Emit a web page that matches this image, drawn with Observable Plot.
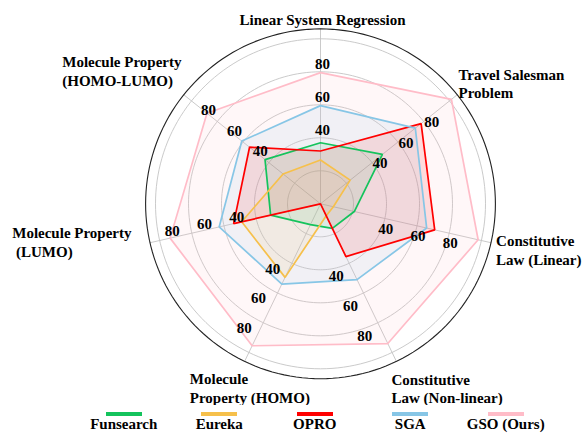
<!DOCTYPE html>
<html><head><meta charset="utf-8">
<script src="https://cdn.jsdelivr.net/npm/d3@7"></script>
<script src="https://cdn.jsdelivr.net/npm/@observablehq/plot@0.6"></script>
<style>
html,body{margin:0;padding:0;background:#fff;overflow:hidden;width:582px;height:433px;}
#chart svg{display:block;}
.legend{position:relative;height:28px;display:flex;padding-left:76px;font-family:"Liberation Serif","Times New Roman",serif;font-weight:bold;font-size:15px;color:#000;}
.legend .item{width:95.5px;text-align:center;}
.legend .sw{width:36px;height:4px;margin:7px auto 0 auto;}
.legend .lab{line-height:16px;white-space:nowrap;}
#chart text{font-family:"Liberation Serif","Times New Roman",serif;}
</style></head><body><div id="chart"></div><div class="legend" id="legend"></div>
<script>
// ---- data ----
const axes = ["Linear System Regression", "Travel Salesman\nProblem", "Constitutive\nLaw (Linear)", "Constitutive\nLaw (Non-linear)", "Molecule\nProperty (HOMO)", "Molecule Property\n\u00a0(LUMO)", "Molecule Property\n(HOMO-LUMO)"];
const methods = ["Funsearch", "Eureka", "OPRO", "SGA", "GSO (Ours)"];
const funsearch = [37, 48, 21, 16.5, 14, 31, 43];
const eureka = [26.5, 23, 8, 8, 49.5, 49, 29];
const opro = [32, 78, 71, 35.5, 0, 54, 55];
const sga = [59.5, 73.5, 66, 51, 54, 63, 61];
const gso = [79.5, 101.5, 98, 94, 95.5, 93.5, 88];
const tickValues = [40, 60, 80];
const gridRings = [20, 40, 60, 80, 100];

// ---- style / layout ----
const colors = ["#14c35c", "#f6c04b", "#ff0000", "#87c6e6", "#ffbcc8"];
const W = 582, H = 405, CX = 320, CY = 203.3, K = 1.65, RMAX = 106, RTITLE = 112;
const tickShift = [[2,-7.5],[8,1],[1,10.5],[-13,13],[-19,5.5],[-19.5,-1.7],[-8.7,-11]];
const titleLayout = [
  {anchor:"middle", dx:2, dy:0},
  {anchor:"start", dx:-6.5, dy:-5.7},
  {anchor:"start", dx:-4.6, dy:4.8},
  {anchor:"start", dx:-9.2, dy:17.7},
  {anchor:"start", dx:-50.5, dy:17.5},
  {anchor:"start", dx:-128.1, dy:-3.2},
  {anchor:"start", dx:-113.8, dy:-18.2}
];
const font = "Liberation Serif";

const N = axes.length;
const ang = i => 2 * Math.PI * i / N;
const px = (v, i) => v * Math.sin(ang(i));
const py = (v, i) => v * Math.cos(ang(i));

const series = [funsearch, eureka, opro, sga, gso];
const rows = [];
series.forEach((vals, s) => {
  for (let i = 0; i <= N; i++) {
    const j = i % N;
    rows.push({method: methods[s], v: vals[j], x: px(vals[j], j), y: py(vals[j], j)});
  }
});

const circle = (r) => d3.range(0, 361, 2).map(a => ({r, x: r * Math.sin(a * Math.PI / 180), y: r * Math.cos(a * Math.PI / 180)}));
const rings = gridRings.flatMap(circle);
const spine = circle(RMAX);
const spokes = axes.flatMap((a, i) => [{i, x: 0, y: 0}, {i, x: px(RMAX, i), y: py(RMAX, i)}]);

const tickMarks = axes.map((a, i) => Plot.text(tickValues.map(t => ({t, x: px(t, i), y: py(t, i)})), {
  x: "x", y: "y", text: d => String(d.t), dx: tickShift[i][0], dy: tickShift[i][1],
  fontSize: 15, fontWeight: "bold", fontFamily: font, fill: "#000"
}));
const titleMarks = axes.map((a, i) => Plot.text([{x: px(RTITLE, i), y: py(RTITLE, i), label: a}], {
  x: "x", y: "y", text: "label", textAnchor: titleLayout[i].anchor, lineAnchor: "middle",
  dx: titleLayout[i].dx, dy: titleLayout[i].dy, fontSize: 15, fontWeight: "bold", fontFamily: font, lineHeight: 1.25, fill: "#000"
}));

const chart = Plot.plot({
  width: W, height: H, margin: 0,
  style: {fontFamily: font, background: "#fff"},
  x: {domain: [-CX / K, (W - CX) / K], axis: null},
  y: {domain: [-(H - CY) / K, CY / K], axis: null},
  color: {domain: methods, range: colors},
  marks: [
    Plot.line(rings, {x: "x", y: "y", z: "r", stroke: "#c4c4c4", strokeWidth: 0.9}),
    Plot.line(spokes, {x: "x", y: "y", z: "i", stroke: "#c4c4c4", strokeWidth: 0.9}),
    Plot.line(spine, {x: "x", y: "y", stroke: "#222", strokeWidth: 1.1}),
    Plot.line(rows, {x: "x", y: "y", z: "method", fill: "method", fillOpacity: 0.12, stroke: "none", curve: "linear-closed"}),
    Plot.line(rows, {x: "x", y: "y", z: "method", stroke: "method", strokeWidth: 1.7, strokeLinejoin: "miter"}),
    ...tickMarks,
    ...titleMarks
  ]
});
document.getElementById("chart").appendChild(chart);

const leg = document.getElementById("legend");
methods.forEach((m, s) => {
  const it = document.createElement("div"); it.className = "item";
  const sw = document.createElement("div"); sw.className = "sw"; sw.style.background = colors[s];
  const lb = document.createElement("div"); lb.className = "lab"; lb.textContent = m;
  it.appendChild(sw); it.appendChild(lb); leg.appendChild(it);
});
</script></body></html>
